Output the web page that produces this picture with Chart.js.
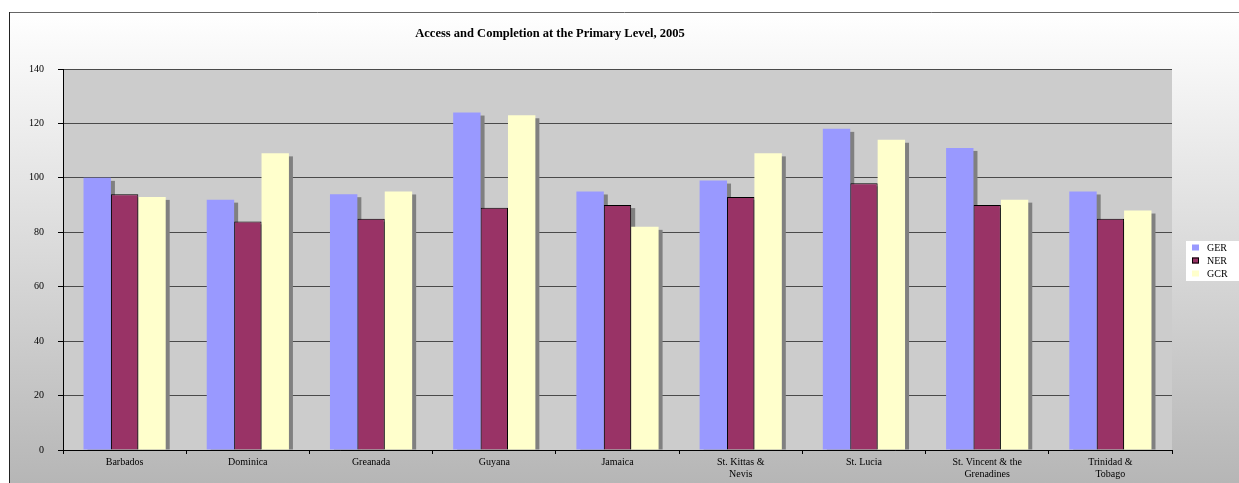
<!DOCTYPE html>
<html><head><meta charset="utf-8">
<script src="https://cdn.jsdelivr.net/npm/chart.js@4.4.1/dist/chart.umd.min.js"></script>
<style>html,body{margin:0;padding:0;background:#fff;overflow:hidden}#wrap{width:1239px;height:483px}</style>
</head><body><div id="wrap"><canvas id="c" width="1239" height="483"></canvas></div>
<script>
const chartTitle = 'Access and Completion at the Primary Level, 2005';
const categories = ['Barbados', 'Dominica', 'Greanada', 'Guyana', 'Jamaica', ['St. Kittas &', 'Nevis'], 'St. Lucia', ['St. Vincent & the', 'Grenadines'], ['Trinidad &', 'Tobago']];
const seriesNames = ['GER', 'NER', 'GCR'];
const gerValues = [100, 92, 94, 124, 95, 99, 118, 111, 95];
const nerValues = [94, 84, 85, 89, 90, 93, 98, 90, 85];
const gcrValues = [93, 109, 95, 123, 82, 109, 114, 92, 88];
const yMin = 0, yMax = 140, yStep = 20;

const FONT = "'Liberation Serif', 'Times New Roman', serif";
Chart.defaults.font.family = FONT;
Chart.defaults.color = '#000';

const bgPlugin = {
  id: 'bg',
  beforeDraw(chart) {
    const ctx = chart.ctx, W = chart.width, H = chart.height, a = chart.chartArea;
    ctx.save();
    ctx.fillStyle = '#ffffff';
    ctx.fillRect(0, 0, W, H);
    const g = ctx.createLinearGradient(0, 12, 0, H);
    g.addColorStop(0, '#ffffff');
    g.addColorStop(1, '#b6b6b6');
    ctx.fillStyle = g;
    ctx.fillRect(10, 12, W - 10, H - 12);
    ctx.fillStyle = '#cccccc';
    ctx.fillRect(a.left, a.top, a.right - a.left, a.bottom - a.top);
    ctx.strokeStyle = '#666';
    ctx.lineWidth = 1;
    ctx.beginPath(); ctx.moveTo(10, 12.5); ctx.lineTo(W, 12.5); ctx.stroke();
    ctx.strokeStyle = '#222';
    ctx.beginPath(); ctx.moveTo(9.5, 12); ctx.lineTo(9.5, H); ctx.stroke();
    ctx.restore();
  }
};

const shadowPlugin = {
  id: 'shadow',
  beforeDatasetsDraw(chart) {
    const ctx = chart.ctx, a = chart.chartArea;
    ctx.save();
    ctx.beginPath(); ctx.rect(a.left, a.top, a.right - a.left, a.bottom - a.top); ctx.clip();
    ctx.fillStyle = '#808080';
    chart.data.datasets.forEach((ds, i) => {
      chart.getDatasetMeta(i).data.forEach(bar => {
        const p = bar.getProps(['x', 'y', 'base', 'width'], true);
        ctx.fillRect(p.x - p.width / 2 + 4, p.y + 3, p.width, p.base - p.y - 3);
      });
    });
    ctx.restore();
  }
};

const annotPlugin = {
  id: 'annot',
  afterDraw(chart) {
    const ctx = chart.ctx;
    ctx.save();
    ctx.fillStyle = '#000';
    ctx.font = 'bold 12.5px ' + FONT;
    ctx.textAlign = 'center';
    ctx.textBaseline = 'middle';
    ctx.fillText(chartTitle, 550, 34);
    // legend
    ctx.fillStyle = '#ffffff';
    ctx.fillRect(1186, 241, 53, 40);
    ctx.font = '10px ' + FONT;
    ctx.textAlign = 'left';
    chart.data.datasets.forEach((ds, i) => {
      const yc = 247.5 + i * 13;
      ctx.fillStyle = ds.backgroundColor;
      ctx.fillRect(1192, yc - 3, 7, 6);
      if (ds.borderWidth) {
        ctx.strokeStyle = '#000'; ctx.lineWidth = 1;
        ctx.strokeRect(1192.5, yc - 2.5, 6, 5);
      }
      ctx.fillStyle = '#000';
      ctx.fillText(ds.label, 1207, yc + 0.5);
    });
    ctx.restore();
  }
};

new Chart(document.getElementById('c'), {
  type: 'bar',
  data: {
    labels: categories,
    datasets: [
      { label: seriesNames[0], data: gerValues, backgroundColor: '#9999ff', borderWidth: 0 },
      { label: seriesNames[1], data: nerValues, backgroundColor: '#993366', borderColor: '#000', borderWidth: 1 },
      { label: seriesNames[2], data: gcrValues, backgroundColor: '#ffffcc', borderWidth: 0 }
    ]
  },
  options: {
    responsive: false,
    animation: false,
    devicePixelRatio: 1,
    layout: { padding: { top: 69, right: 67, left: 0, bottom: 0 } },
    datasets: { bar: { barPercentage: 1, categoryPercentage: 0.667 } },
    plugins: { legend: { display: false }, title: { display: false }, tooltip: { enabled: false } },
    scales: {
      x: {
        afterFit(s) { s.height = 33; },
        grid: { drawOnChartArea: false, tickLength: 4, tickColor: '#000', offset: true },
        border: { color: '#000', width: 1 },
        ticks: { font: { size: 10, lineHeight: 1.25 }, color: '#000', padding: 2, maxRotation: 0, autoSkip: false }
      },
      y: {
        min: yMin, max: yMax,
        afterFit(s) { s.width = 63; },
        grid: { color: '#4a4a4a', lineWidth: 1, tickLength: 5, tickColor: '#000' },
        border: { color: '#000', width: 1 },
        ticks: { stepSize: yStep, font: { size: 10 }, color: '#000', padding: 14 }
      }
    }
  },
  plugins: [bgPlugin, shadowPlugin, annotPlugin]
});
</script></body></html>
